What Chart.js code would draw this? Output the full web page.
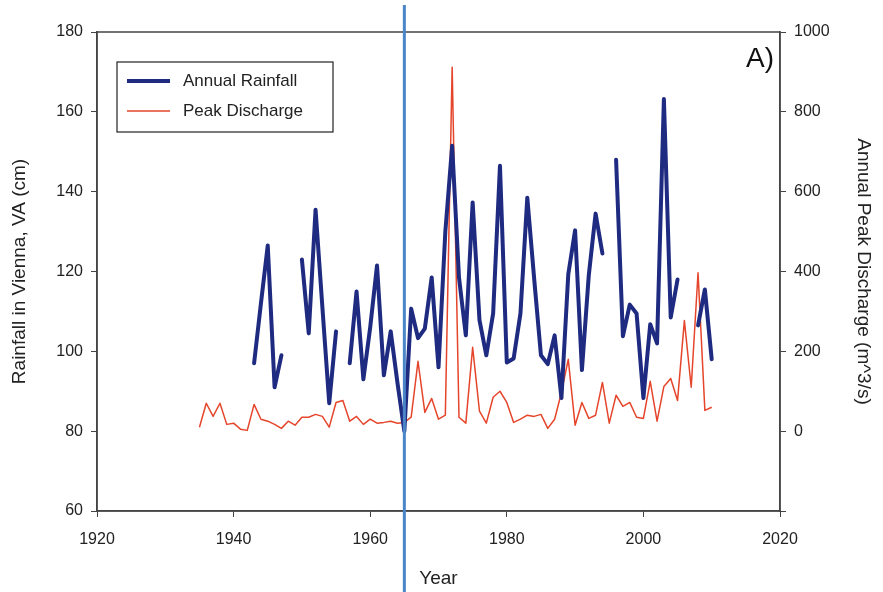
<!DOCTYPE html>
<html>
<head>
<meta charset="utf-8">
<script src="https://cdn.jsdelivr.net/npm/chart.js@4.4.1/dist/chart.umd.min.js"></script>
<style>
  html, body { margin: 0; padding: 0; background: #fff; }
  #wrap { width: 883px; height: 592px; }
</style>
</head>
<body>
<div id="wrap"><canvas id="chart" width="883" height="592"></canvas></div>
<script>
// Annual rainfall in Vienna, VA (cm), null = missing year
const rainYears = [
  1943, 1944, 1945, 1946, 1947, 1948, 1949,
  1950, 1951, 1952, 1953, 1954, 1955, 1956, 1957, 1958, 1959,
  1960, 1961, 1962, 1963, 1964, 1965, 1966, 1967, 1968, 1969,
  1970, 1971, 1972, 1973, 1974, 1975, 1976, 1977, 1978, 1979,
  1980, 1981, 1982, 1983, 1984, 1985, 1986, 1987, 1988, 1989,
  1990, 1991, 1992, 1993, 1994, 1995, 1996, 1997, 1998, 1999,
  2000, 2001, 2002, 2003, 2004, 2005, 2006, 2007, 2008, 2009, 2010
];
const rainfall = [
  97, 112, 126.5, 91, 99, null, null,
  123, 104.5, 135.5, 111, 87, 105, null, 97, 115, 93,
  106, 121.5, 94, 105, 92, 80, 110.7, 103.3, 105.7, 118.5,
  96, 130, 151.5, 118.5, 104, 137.3, 107.8, 99, 109.5, 146.5,
  97.2, 98.2, 109.5, 138.5, 118.3, 99, 96.8, 104, 88.3, 119.3,
  130.3, 95.3, 119, 134.5, 124.5, null, 148, 103.8, 111.7, 109.5,
  88.3, 106.8, 102, 163.2, 108.5, 118, null, null, 106.5, 115.5, 98
];

// Annual peak discharge (m^3/s)
const peakYears = [
  1935, 1936, 1937, 1938, 1939, 1940, 1941, 1942, 1943, 1944,
  1945, 1946, 1947, 1948, 1949, 1950, 1951, 1952, 1953, 1954,
  1955, 1956, 1957, 1958, 1959, 1960, 1961, 1962, 1963, 1964,
  1965, 1966, 1967, 1968, 1969, 1970, 1971, 1972, 1973, 1974,
  1975, 1976, 1977, 1978, 1979, 1980, 1981, 1982, 1983, 1984,
  1985, 1986, 1987, 1988, 1989, 1990, 1991, 1992, 1993, 1994,
  1995, 1996, 1997, 1998, 1999, 2000, 2001, 2002, 2003, 2004,
  2005, 2006, 2007, 2008, 2009, 2010
];
const peakDischarge = [
  10, 70, 37, 70, 17, 20, 5, 2, 67, 30,
  25, 17, 7, 25, 15, 35, 35, 42, 37, 10,
  72, 77, 25, 37, 17, 30, 20, 22, 25, 20,
  22, 35, 175, 47, 82, 30, 40, 912, 35, 20,
  210, 50, 20, 85, 100, 72, 22, 30, 40, 37,
  42, 7, 30, 97, 180, 15, 72, 32, 40, 122,
  20, 90, 62, 72, 35, 32, 125, 25, 112, 132,
  77, 277, 110, 397, 52, 60
];

const xTicks = [1920, 1940, 1960, 1980, 2000, 2020];
const changeYear = 1965;

const rainColor = '#1f2b80';
const peakColor = '#e5452b';
const axisColor = '#444';
const FONT = '"Liberation Sans", Arial, sans-serif';

// 1965 marker, frame, legend and panel label
const overlay = {
  id: 'overlay',
  afterDraw(chart) {
    const ctx = chart.ctx;
    const a = chart.chartArea;
    const x = chart.scales.x.getPixelForValue(changeYear);

    ctx.save();
    // frame
    ctx.strokeStyle = axisColor;
    ctx.lineWidth = 1.5;
    ctx.strokeRect(a.left, a.top, a.right - a.left, a.bottom - a.top);

    // vertical marker
    ctx.strokeStyle = '#4a86c8';
    ctx.lineWidth = 3;
    ctx.beginPath();
    ctx.moveTo(x, 5);
    ctx.lineTo(x, chart.height);
    ctx.stroke();

    // legend
    const lx = 117, ly = 62, lw = 216, lh = 70;
    ctx.fillStyle = '#fff';
    ctx.fillRect(lx, ly, lw, lh);
    ctx.strokeStyle = '#222';
    ctx.lineWidth = 1.2;
    ctx.strokeRect(lx, ly, lw, lh);
    const items = [
      { text: 'Annual Rainfall', color: rainColor, width: 4 },
      { text: 'Peak Discharge', color: peakColor, width: 1.5 }
    ];
    ctx.font = '17px ' + FONT;
    ctx.textBaseline = 'middle';
    items.forEach((it, i) => {
      const yy = ly + 19 + i * 30;
      ctx.strokeStyle = it.color;
      ctx.lineWidth = it.width;
      ctx.beginPath();
      ctx.moveTo(lx + 10, yy);
      ctx.lineTo(lx + 53, yy);
      ctx.stroke();
      ctx.fillStyle = '#222';
      ctx.fillText(it.text, lx + 66, yy);
    });

    // panel label
    ctx.font = '28px ' + FONT;
    ctx.textAlign = 'right';
    ctx.textBaseline = 'middle';
    ctx.fillStyle = '#111';
    ctx.fillText('A)', a.right - 6, 59);
    ctx.restore();
  }
};

const tickGrid = {
  display: true,
  drawOnChartArea: false,
  drawTicks: true,
  tickLength: 6,
  tickColor: axisColor,
  color: axisColor
};

new Chart(document.getElementById('chart'), {
  type: 'line',
  data: {
    datasets: [
      {
        label: 'Annual Rainfall',
        data: rainYears.map((y, i) => ({ x: y, y: rainfall[i] })),
        borderColor: rainColor,
        borderWidth: 4,
        borderJoinStyle: 'round',
        borderCapStyle: 'round',
        pointRadius: 0,
        spanGaps: false,
        yAxisID: 'y'
      },
      {
        label: 'Peak Discharge',
        data: peakYears.map((y, i) => ({ x: y, y: peakDischarge[i] })),
        borderColor: peakColor,
        borderWidth: 1.5,
        borderJoinStyle: 'round',
        pointRadius: 0,
        yAxisID: 'y2'
      }
    ]
  },
  options: {
    responsive: false,
    animation: false,
    layout: { padding: { top: 32, left: 4, right: 4 } },
    plugins: {
      legend: { display: false },
      tooltip: { enabled: false }
    },
    scales: {
      x: {
        type: 'linear',
        min: 1920,
        max: 2020,
        afterBuildTicks: s => { s.ticks = xTicks.map(v => ({ value: v })); },
        grid: tickGrid,
        border: { display: true, color: axisColor, width: 1.5 },
        ticks: {
          color: '#222',
          font: { family: FONT, size: 16 },
          padding: 13,
          maxRotation: 0,
          callback: v => String(v)
        },
        title: { display: true, text: 'Year', color: '#222', font: { family: FONT, size: 19 }, padding: { top: 10, bottom: 2 } },
        afterFit: s => { s.height = 81; }
      },
      y: {
        position: 'left',
        min: 60,
        max: 180,
        ticks: { stepSize: 20, color: '#222', font: { family: FONT, size: 16 }, padding: 8 },
        grid: tickGrid,
        border: { display: true, color: axisColor, width: 1.5 },
        title: { display: true, text: 'Rainfall in Vienna, VA (cm)', color: '#222', font: { family: FONT, size: 19 }, padding: { bottom: 4 } },
        afterFit: s => { s.width = 93; }
      },
      y2: {
        position: 'right',
        min: -200,
        max: 1000,
        ticks: {
          stepSize: 200,
          color: '#222',
          font: { family: FONT, size: 16 },
          padding: 8,
          callback: v => (v < 0 ? '' : v)
        },
        grid: tickGrid,
        border: { display: true, color: axisColor, width: 1.5 },
        title: { display: true, text: 'Annual Peak Discharge (m^3/s)', color: '#222', font: { family: FONT, size: 19 }, padding: { top: 4 } },
        afterFit: s => { s.width = 99; }
      }
    }
  },
  plugins: [overlay]
});
</script>
</body>
</html>
